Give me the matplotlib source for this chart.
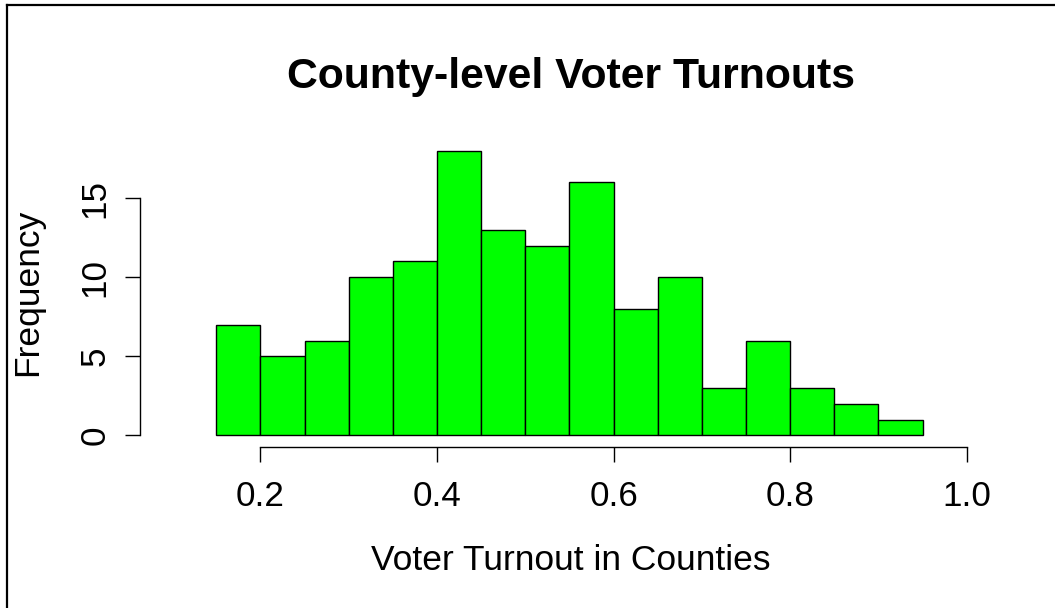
import matplotlib
matplotlib.use("Agg")
import matplotlib.pyplot as plt
from matplotlib.lines import Line2D

plt.rcParams['font.family'] = ['Liberation Sans', 'DejaVu Sans']

# Histogram bins (width 0.05) and their counts
bin_edges = [0.15, 0.20, 0.25, 0.30, 0.35, 0.40, 0.45, 0.50, 0.55,
             0.60, 0.65, 0.70, 0.75, 0.80, 0.85, 0.90, 0.95]
counts = [7, 5, 6, 10, 11, 18, 13, 12, 16, 8, 10, 3, 6, 3, 2, 1]

x_ticks = [0.2, 0.4, 0.6, 0.8, 1.0]
x_tick_labels = ["0.2", "0.4", "0.6", "0.8", "1.0"]
y_ticks = [0, 5, 10, 15]
y_tick_labels = ["0", "5", "10", "15"]

W, H = 1055, 608
fig = plt.figure(figsize=(W / 100, H / 100), dpi=100)
fig.patch.set_facecolor("white")

# plot region in pixels
left_px, right_px, top_px, bottom_px = 140.3, 998.5, 139.5, 446.7
ax = fig.add_axes([left_px / W, (H - bottom_px) / H,
                   (right_px - left_px) / W, (bottom_px - top_px) / H])

lefts = bin_edges[:-1]
widths = [b - a for a, b in zip(bin_edges[:-1], bin_edges[1:])]
ax.bar(lefts, counts, width=widths, align="edge", color="#00ff00",
       edgecolor="black", linewidth=1.0)

ax.set_xlim(0.064, 1.036)
ax.set_ylim(-0.72, 18.72)

for s in ("top", "right"):
    ax.spines[s].set_visible(False)
ax.spines["bottom"].set_bounds(0.2, 1.0)
ax.spines["left"].set_bounds(0, 15)
for s in ("bottom", "left"):
    ax.spines[s].set_linewidth(1.0)

ax.set_xticks(x_ticks)
ax.set_xticklabels(x_tick_labels)
ax.set_yticks(y_ticks)
ax.set_yticklabels(y_tick_labels, rotation=90, va="center")
ax.tick_params(axis="both", direction="out", length=11, width=1.0,
               labelsize=25.2, colors="black")
ax.tick_params(axis="x", pad=13)
ax.tick_params(axis="y", pad=10)

fig.text(571 / W, 1 - 77 / H, "County-level Voter Turnouts", ha="center",
         va="center", fontsize=30.8, fontweight="bold")
fig.text(571 / W, 1 - 560 / H, "Voter Turnout in Counties", ha="center",
         va="center", fontsize=25.5)
fig.text(28 / W, 1 - 292 / H, "Frequency", ha="center", va="center",
         rotation=90, fontsize=25.5)

# outer frame (top and left edges)
fig.add_artist(Line2D([7 / W, 1.0], [1 - 5 / H, 1 - 5 / H],
                      transform=fig.transFigure, color="black", linewidth=1.6))
fig.add_artist(Line2D([7 / W, 7 / W], [0.0, 1 - 5 / H],
                      transform=fig.transFigure, color="black", linewidth=1.6))

fig.savefig("out.png", dpi=100, facecolor="white")
